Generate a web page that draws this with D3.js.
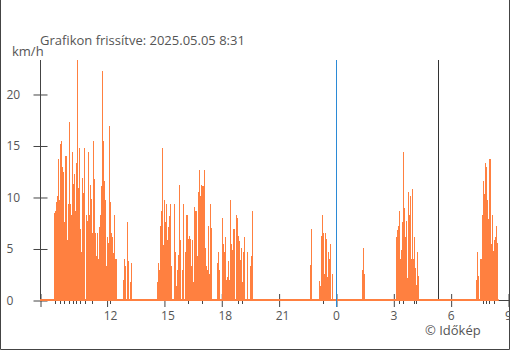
<!DOCTYPE html>
<html><head><meta charset="utf-8">
<script src="https://cdn.jsdelivr.net/npm/d3@7"></script>
<style>
html,body{margin:0;padding:0;background:#fff;}
svg{display:block;font-family:"Open Sans",sans-serif;}
</style></head><body>
<svg id="chart" width="510" height="350"></svg>
<script>
// ---- texts ----
const titleText = "Grafikon frissítve: 2025.05.05 8:31";
const unitLabel = "km/h";
const creditText = "© Időkép";

// ---- time frame ----
const axisStart = "2025-05-04T08:31";
const axisEnd = "2025-05-05T09:00";
const dataStart = "2025-05-04T08:31";
const dataEnd = "2025-05-05T08:31";
const midnightTime = "2025-05-05T00:00";
const sunriseTime = "2025-05-05T05:20";
const xTickTimes = ["2025-05-04T12:00","2025-05-04T15:00","2025-05-04T18:00","2025-05-04T21:00",
                    "2025-05-05T00:00","2025-05-05T03:00","2025-05-05T06:00","2025-05-05T09:00"];
const yTicks = [0, 5, 10, 15, 20];
const yMax = 23.3;
const stepMinutes = 3;

// ---- wind speed (km/h), runs of 3-minute readings ----
const runStarts = ["2025-05-04T09:15","2025-05-04T10:55","2025-05-04T12:51","2025-05-04T14:38",
                   "2025-05-04T16:06","2025-05-04T17:47","2025-05-04T18:46","2025-05-04T22:39",
                   "2025-05-04T23:07","2025-05-05T01:22","2025-05-05T03:08","2025-05-05T07:20"];
const windA1 = [8.4,8.6,9.5,10.1,13.7,9.7,15.1,15.4,12.9,12.4,7.6,11.6,14.0,7.2,5.8,9.3,17.3,9.3,8.3,14.4,11.3,12.2,8.6,13.3,23.3,10.9,14.8,6.9,4.7,11.8,10.4,14.8];
const windA2 = [8.3,7.7,14.4,8.3,11.2,9.8,6.5,15.4,11.7,6.5,5.6,4.3,6.5,4.0,7.1,8.3,11.1,22.2,15.4,11.6,9.7,3.3,6.1,5.5,16.9,9.5,6.5,6.1,4.6,8.3,4.0,4.0];
const windB  = [1.9,4.0,3.3,0,7.6,3.8,0,0,1.7,3.6];
const windC1 = [1.7,3.6,2.9,7.2,8.6,14.8,5.3,9.7,7.6,9.3,4.0,5.8,7.1,8.2,9.3,3.3,0,0,9.3,4.7,1.4,2.9,4.4,11.2,5.8,0,2.9,9.3];
const windC2 = [4.7,8.3,8.3,5.9,6.2,5.9,3.3,5.8,1.7,9.0,4.3,8.6,5.8,4.3,10.5,12.6,10.1,11.2,11.1,11.1,12.6,5.0,3.3,2.9,7.2,2.5,9.3,7.0];
const windD1 = [3.6,4.7,2.9,0,0,8.0,5.4,4.7,6.1,1.9,2.2,3.8,1.9,9.7,5.4,2.9,4.9,6.9,6.9];
const windD2 = [8.3,8.0,6.2,5.7,3.9,5.0,1.7,4.7,6.1,0,0,0,4.7,0,0,3.3,4.3,8.6];
const windE  = [3.4,6.9];
const windF  = [1.8,1.4,6.2,8.3,6.5,2.5,6.5,5.9,2.2,4.7,4.0,5.4,0,2.5];
const windG  = [2.9,5.0,2.5];
const windH  = [6.1,6.8,7.2,8.6,4.0,4.9,7.6,14.4,8.9,6.1,2.5,7.7,2.1,10.5,8.3,10.1,4.0,10.8,4.0,6.1,3.1,1.5,4.7,2.3];
const windI  = [1.9,4.7,2.3,0,4.0,4.0,8.3,11.6,10.3,13.3,12.9,9.7,7.9,13.7,13.7,5.4,3.1,8.3,4.8,5.8,6.1,7.2,5.5];
const runValues = [windA1,windA2,windB,windC1,windC2,windD1,windD2,windE,windF,windG,windH,windI];

// small dark markers under the baseline
const markerTimes = ["2025-05-04T09:18","2025-05-04T09:34","2025-05-04T09:46","2025-05-04T10:02",
                     "2025-05-04T10:15","2025-05-04T10:24","2025-05-04T10:37","2025-05-04T10:52",
                     "2025-05-04T11:14","2025-05-04T12:11","2025-05-04T16:16","2025-05-04T17:00",
                     "2025-05-04T18:52","2025-05-04T19:05","2025-05-04T23:19","2025-05-05T03:18",
                     "2025-05-05T03:30","2025-05-05T04:05","2025-05-05T04:11","2025-05-05T07:42",
                     "2025-05-05T07:51","2025-05-05T08:00","2025-05-05T08:16"];

// ---- styles ----
const barColor = "#ff8040";
const axisColor = "#444";
const textColor = "#555";

const parse = d3.timeParse("%Y-%m-%dT%H:%M");
const bars = [];
runStarts.forEach((s, k) => {
  const t0 = parse(s);
  runValues[k].forEach((v, i) => {
    const t = d3.timeMinute.offset(t0, i * stepMinutes);
    bars.push({t, t1: d3.timeMinute.offset(t, stepMinutes), v});
  });
});

const svg = d3.select("#chart");
const M = {left: 40, top: 60};
const x = d3.scaleTime().domain([parse(axisStart), parse(axisEnd)]).range([M.left, 508]);
const y = d3.scaleLinear().domain([0, yMax]).range([300, M.top]);

// frame
svg.append("path")
  .attr("d", `M0.5,0 V349.5 H509.5 V0`)
  .attr("fill", "none").attr("stroke", axisColor).attr("stroke-width", 1);

// y axis
const yAxis = d3.axisLeft(y).tickValues(yTicks).tickSize(0).tickFormat(d3.format("d"));
const gy = svg.append("g").attr("transform", `translate(${M.left + 0.5},0)`).call(yAxis);
gy.select(".domain").attr("stroke", axisColor).attr("d", `M0,${M.top}V300`);
gy.selectAll(".tick line").remove();
gy.selectAll(".tick").append("line").attr("x1", -7).attr("x2", 7)
  .attr("y1", 0.5).attr("y2", 0.5).attr("stroke", axisColor);
gy.selectAll(".tick text").attr("x", -34).attr("text-anchor", "start").attr("dy", "0.35em")
  .attr("fill", textColor).style("font-size", "12px").style("font-family", "'Open Sans', sans-serif");

// x axis
const xTicks = [parse(axisStart)].concat(xTickTimes.map(parse));
const xAxis = d3.axisBottom(x).tickValues(xTicks).tickSize(0)
  .tickFormat((d, i) => i === 0 ? "" : d3.timeFormat("%-H")(d));
const gx = svg.append("g").attr("transform", `translate(0,300)`).call(xAxis);
gx.select(".domain").attr("stroke", axisColor).attr("d", `M${M.left},0.5H509`);
gx.selectAll(".tick").append("line").attr("x1", 0.5).attr("x2", 0.5)
  .attr("y1", -6).attr("y2", 7).attr("stroke", axisColor);
gx.selectAll(".tick text").attr("y", 20).attr("dy", 0).attr("text-anchor", "start").attr("dx", -3.4)
  .attr("fill", textColor).style("font-size", "12px").style("font-family", "'Open Sans', sans-serif");

// markers
svg.append("g").selectAll("line").data(markerTimes.map(parse)).join("line")
  .attr("x1", d => Math.round(x(d)) + 0.5).attr("x2", d => Math.round(x(d)) + 0.5)
  .attr("y1", 301).attr("y2", 304)
  .attr("stroke", axisColor).attr("stroke-width", 1);

// baseline of wind series
svg.append("line")
  .attr("x1", x(parse(dataStart))).attr("x2", x(parse(dataEnd)))
  .attr("y1", y(0)).attr("y2", y(0))
  .attr("stroke", barColor).attr("stroke-width", 2);

// bars
svg.append("g").selectAll("rect").data(bars.filter(d => d.v > 0)).join("rect")
  .attr("x", d => x(d.t))
  .attr("width", d => x(d.t1) - x(d.t) + 0.1)
  .attr("y", d => y(d.v))
  .attr("height", d => y(0) - y(d.v))
  .attr("fill", barColor)
  .attr("shape-rendering", "crispEdges");

// midnight & sunrise lines
svg.append("line")
  .attr("x1", Math.round(x(parse(midnightTime))) + 0.5).attr("x2", Math.round(x(parse(midnightTime))) + 0.5)
  .attr("y1", M.top).attr("y2", 307)
  .attr("stroke", "#2b8ad6").attr("stroke-width", 1);
svg.append("line")
  .attr("x1", Math.round(x(parse(sunriseTime))) + 0.5).attr("x2", Math.round(x(parse(sunriseTime))) + 0.5)
  .attr("y1", M.top).attr("y2", 299)
  .attr("stroke", "#333").attr("stroke-width", 1);

// texts
svg.append("text").attr("x", 40).attr("y", 45).text(titleText)
  .attr("fill", textColor).style("font-size", "13px");
svg.append("text").attr("x", 12).attr("y", 56).text(unitLabel)
  .attr("fill", textColor).style("font-size", "13px");
svg.append("text").attr("x", 425).attr("y", 335).text(creditText)
  .attr("fill", textColor).style("font-size", "13px");
</script>
</body></html>
